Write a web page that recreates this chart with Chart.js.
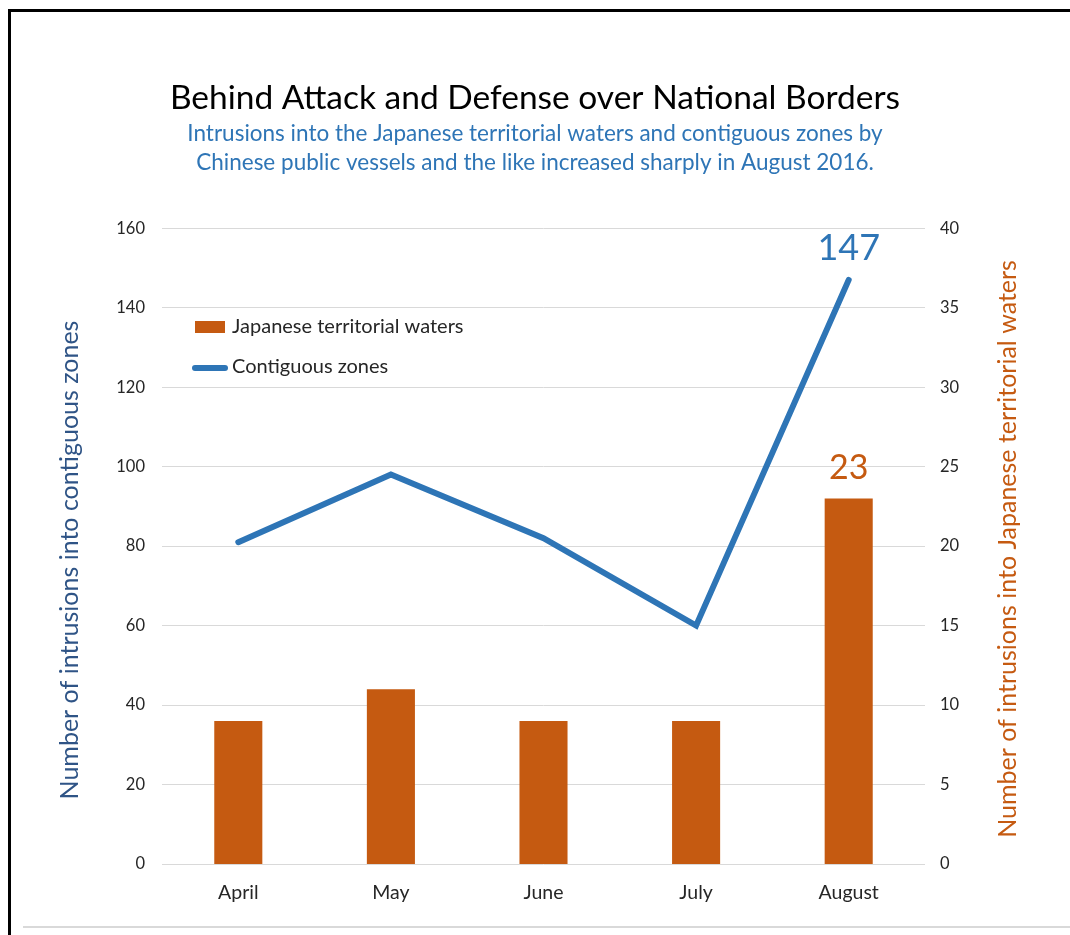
<!DOCTYPE html>
<html lang="en">
<head>
    <meta charset="UTF-8">
    <title>Behind Attack and Defense over National Borders</title>
    <script src="https://cdn.jsdelivr.net/npm/chart.js"></script>
    <style>
        html, body { margin: 0; padding: 0; background: #fff; }
        .quadro { position: relative; width: 1070px; height: 935px; overflow: hidden; }
        .borda { position: absolute; left: 8px; top: 9px; width: 1100px; height: 1000px;
                 border-left: 3px solid #000; border-top: 3px solid #000; }
        .linha-baixo { position: absolute; left: 23px; top: 926px; width: 1060px; height: 0;
                       border-top: 2px solid #d9d9d9; }
        canvas { position: absolute; left: 0; top: 0; }
    </style>
</head>
<body>
    <div class="quadro">
        <div class="borda"></div>
        <div class="linha-baixo"></div>
        <canvas id="grafico" width="1070" height="935"></canvas>
    </div>
<script>
    const meses = ["April", "May", "June", "July", "August"];
    const zonasContiguas = [81, 98, 82, 60, 147];
    const aguasTerritoriais = [9, 11, 9, 9, 23];
    const ticksEsquerda = [0, 20, 40, 60, 80, 100, 120, 140, 160];
    const ticksDireita = [0, 5, 10, 15, 20, 25, 30, 35, 40];

    const AZUL = "#2E75B6";
    const LARANJA = "#C55A11";
    const FONTE = "Lato, 'Open Sans', sans-serif";
    const tituloEsquerda = "Number of intrusions into contiguous zones";
    const tituloDireita = "Number of intrusions into Japanese territorial waters";

    function textoVertical(ctx, texto, x, y, cor) {
        ctx.save();
        ctx.translate(x, y);
        ctx.rotate(-Math.PI / 2);
        ctx.textAlign = "center";
        ctx.textBaseline = "middle";
        ctx.fillStyle = cor;
        ctx.font = "25px " + FONTE;
        ctx.fillText(texto, 0, 0);
        ctx.restore();
    }

    // legenda desenhada dentro da area do grafico + titulos dos eixos
    const legendaInterna = {
        id: "legendaInterna",
        afterDraw(chart) {
            const ctx = chart.ctx;
            const ds = chart.data.datasets;
            ctx.save();
            ctx.font = "20px " + FONTE;
            ctx.textBaseline = "middle";
            // barras
            ctx.fillStyle = ds[0].backgroundColor;
            ctx.fillRect(195, 321, 30, 12);
            ctx.fillStyle = "#262626";
            ctx.fillText(ds[0].label, 232, 327);
            // linha
            ctx.strokeStyle = ds[1].borderColor;
            ctx.lineWidth = 6;
            ctx.lineCap = "round";
            ctx.beginPath();
            ctx.moveTo(195, 368);
            ctx.lineTo(225, 368);
            ctx.stroke();
            ctx.fillText(ds[1].label, 232, 367);
            ctx.restore();

            textoVertical(ctx, tituloEsquerda, 70, 560, "#2F5486");
            textoVertical(ctx, tituloDireita, 1008, 549, LARANJA);
        }
    };

    // rotulo so no ultimo mes
    const rotulosDados = {
        id: "rotulosDados",
        afterDatasetsDraw(chart) {
            const ctx = chart.ctx;
            ctx.save();
            ctx.textAlign = "center";
            ctx.textBaseline = "middle";
            chart.data.datasets.forEach((d, i) => {
                const meta = chart.getDatasetMeta(i);
                const n = d.data.length - 1;
                const el = meta.data[n];
                ctx.fillStyle = i === 0 ? LARANJA : AZUL;
                ctx.font = (i === 0 ? "34px " : "36px ") + FONTE;
                ctx.fillText(d.data[n], el.x, el.y - (i === 0 ? 30 : 32));
            });
            ctx.restore();
        }
    };

    const config = {
        data: {
            labels: meses,
            datasets: [
                {
                    type: "bar",
                    label: "Japanese territorial waters",
                    data: aguasTerritoriais,
                    yAxisID: "yDir",
                    backgroundColor: LARANJA,
                    barPercentage: 0.315,
                    categoryPercentage: 1,
                    order: 2
                },
                {
                    type: "line",
                    label: "Contiguous zones",
                    data: zonasContiguas,
                    yAxisID: "yEsq",
                    borderColor: AZUL,
                    backgroundColor: AZUL,
                    borderWidth: 6,
                    borderCapStyle: "round",
                    borderJoinStyle: "miter",
                    pointRadius: 0,
                    tension: 0,
                    order: 1
                }
            ]
        },
        options: {
            responsive: false,
            animation: false,
            layout: { padding: { left: 0, right: 0, top: 0, bottom: 0 } },
            plugins: {
                legend: { display: false },
                tooltip: { enabled: false },
                title: {
                    display: true,
                    text: "Behind Attack and Defense over National Borders",
                    color: "#000",
                    font: { family: FONTE, size: 33.5, weight: "normal", lineHeight: 1.2 },
                    padding: { top: 78, bottom: 1 }
                },
                subtitle: {
                    display: true,
                    text: ["Intrusions into the Japanese territorial waters and contiguous zones by",
                           "Chinese public vessels and the like increased sharply in August 2016."],
                    color: AZUL,
                    font: { family: FONTE, size: 22.5, lineHeight: 1.29 },
                    padding: { top: 0, bottom: 51 }
                }
            },
            scales: {
                x: {
                    grid: { display: false },
                    border: { display: false },
                    ticks: { color: "#262626", font: { family: FONTE, size: 19.5 }, padding: 9 },
                    afterFit(s) { s.height = 71; }
                },
                yEsq: {
                    position: "left",
                    min: 0, max: 160,
                    afterBuildTicks(s) { s.ticks = ticksEsquerda.map(v => ({ value: v })); },
                    grid: { color: "#d9d9d9", drawTicks: false },
                    border: { display: false },
                    ticks: { color: "#262626", font: { family: FONTE, size: 16.5 }, padding: 17 },
                    afterFit(s) { s.width = 162; }
                },
                yDir: {
                    position: "right",
                    min: 0, max: 40,
                    afterBuildTicks(s) { s.ticks = ticksDireita.map(v => ({ value: v })); },
                    grid: { display: false, drawTicks: false },
                    border: { display: false },
                    ticks: { color: "#262626", font: { family: FONTE, size: 16.5 }, padding: 15 },
                    afterFit(s) { s.width = 145; }
                }
            }
        },
        plugins: [legendaInterna, rotulosDados]
    };

    const grafico = new Chart(document.getElementById("grafico"), config);
</script>
</body>
</html>
